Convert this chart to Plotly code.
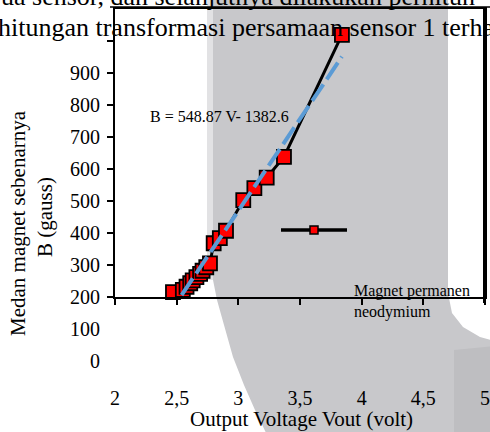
import plotly.graph_objects as go

# ---------------- data ----------------
voltage = [2.47, 2.55, 2.58, 2.61, 2.63, 2.66, 2.69, 2.71, 2.74, 2.77,
           2.80, 2.85, 2.90, 3.04, 3.13, 3.23, 3.37, 3.84]
field_b = [215, 222, 232, 243, 252, 262, 272, 282, 293, 305,
           368, 384, 407, 503, 540, 573, 638, 1019]
trend_x = [2.54, 3.84]
trend_y = [206, 951]

x_ticks = [2, 2.5, 3, 3.5, 4, 4.5, 5]
x_labels = ["2", "2,5", "3", "3,5", "4", "4,5", "5"]
y_label_vals = [0, 100, 200, 300, 400, 500, 600, 700, 800, 900]
y_tick_vals = [200, 300, 400, 500, 600, 700, 800, 900, 1000]

equation = "B = 548.87 V- 1382.6"
series_name = "Magnet permanen<br>neodymium"
x_title = "Output Voltage Vout (volt)"
y_title1 = "Medan magnet sebenarnya"
y_title2 = "B (gauss)"
page_line1 = "ua sensor, dan selanjutnya dilakukan perhitun"
page_line2 = "hitungan transformasi persamaan sensor 1 terha"

X_RANGE = [2, 5]
Y_FULL = [-62.5, 1100]      # full label scale
Y_BOX = [200, 1100]         # framed plotting box

# ---------------- layout geometry ----------------
W, H = 490, 432
ML, MR, MT, MB = 115, 5, 9, 51
PW, PH = W - ML - MR, H - MT - MB
FONT = "Liberation Serif"
box_frac = (Y_BOX[0] - Y_FULL[0]) / (Y_FULL[1] - Y_FULL[0])


def px(xp, yp):
    return (xp - ML) / PW, (H - MB - yp) / PH


def path_from(points):
    s = ""
    for i, (a, b) in enumerate(points):
        u, v = px(a, b)
        s += ("M" if i == 0 else "L") + f"{u:.4f},{v:.4f} "
    return s + "Z"


fig = go.Figure()

fig.add_trace(go.Scatter(
    x=voltage, y=field_b, mode="lines+markers",
    line=dict(color="black", width=3),
    marker=dict(symbol="square", size=14, color="#ff0000",
                line=dict(color="black", width=1.8)),
    showlegend=False, cliponaxis=False,
))
fig.add_trace(go.Scatter(
    x=trend_x, y=trend_y, mode="lines", xaxis="x2", yaxis="y2",
    line=dict(color="#5b9bd5", width=4, dash="20px,6px"),
    showlegend=False, cliponaxis=False,
))

gray = "#c8c8cb"
shapes = []
# background scan shading
shapes.append(dict(type="path", xref="paper", yref="paper", layer="below",
                   path=path_from([(213, -5), (448, -5), (448, 293), (452, 313),
                                   (463, 327), (480, 337), (495, 341), (495, 437),
                                   (268, 437), (255, 410), (244, 385), (233, 357),
                                   (224, 325), (217, 300), (213, 280)]),
                   fillcolor=gray, line=dict(width=0)))
shapes.append(dict(type="path", xref="paper", yref="paper", layer="below",
                   path=path_from([(207, -5), (213, -5), (213, 280), (207, 280)]),
                   fillcolor="#e2e2e4", line=dict(width=0)))
shapes.append(dict(type="path", xref="paper", yref="paper", layer="below",
                   path=path_from([(454, 350), (495, 346), (495, 437), (454, 437)]),
                   fillcolor="#bebec1", line=dict(width=0)))
# underline of page text
u0 = px(110, 7)
u1 = px(492, 7)
shapes.append(dict(type="line", xref="paper", yref="paper",
                   x0=u0[0], y0=u0[1], x1=u1[0], y1=u1[1],
                   line=dict(color="black", width=1.5)))
# right edge of the frame, drawn explicitly as well
r0 = px(484, 9)
r1 = px(484, 303)
shapes.append(dict(type="line", xref="paper", yref="paper",
                   x0=r0[0], x1=r1[0], y0=r1[1], y1=r0[1],
                   line=dict(color="black", width=2)))
# legend sample
l0 = px(281, 230)
l1 = px(347, 230)
shapes.append(dict(type="line", xref="paper", yref="paper",
                   x0=l0[0], y0=l0[1], x1=l1[0], y1=l1[1],
                   line=dict(color="black", width=3.5)))
m0 = px(310, 226)
m1 = px(318, 234)
shapes.append(dict(type="rect", xref="paper", yref="paper",
                   x0=m0[0], y0=m1[1], x1=m1[0], y1=m0[1],
                   fillcolor="#ff0000", line=dict(color="black", width=1.5)))

annotations = []


def ann(text, xp, yp, size, xanchor="center", angle=0, align="center"):
    u, v = px(xp, yp)
    annotations.append(dict(text=text, x=u, y=v, xref="paper", yref="paper",
                            xanchor=xanchor, yanchor="middle", showarrow=False,
                            textangle=angle, align=align,
                            font=dict(family=FONT, size=size, color="black")))


ann(page_line1, -1, -4, 26, xanchor="left")
ann(page_line2, -4, 28, 26, xanchor="left")
ann(equation, 219.5, 117, 16)
ann(series_name, 352, 301, 16, xanchor="left", align="left")
ann(x_title, 301, 419, 21)
ann(y_title1, 18, 223, 21, angle=-90)
ann(y_title2, 45, 217, 21, angle=-90)

fig.update_layout(
    width=W, height=H, autosize=False,
    margin=dict(l=ML, r=MR, t=MT, b=MB, autoexpand=False),
    paper_bgcolor="white", plot_bgcolor="rgba(0,0,0,0)",
    font=dict(family=FONT, color="black"),
    shapes=shapes, annotations=annotations,
    # framed box: x axis line at B = 200, mirrored frame
    xaxis=dict(range=X_RANGE, domain=[0, 1], anchor="y",
               tickvals=x_ticks, showticklabels=False, ticks="outside",
               ticklen=6, tickwidth=1.5, tickcolor="black",
               showline=True, linewidth=2, linecolor="black", mirror=True,
               showgrid=False, zeroline=False),
    yaxis=dict(range=Y_BOX, domain=[box_frac, 1], anchor="x",
               tickvals=y_tick_vals, showticklabels=False, ticks="outside",
               ticklen=6, tickwidth=1.5, tickcolor="black",
               showline=True, linewidth=2, linecolor="black", mirror=True,
               showgrid=False, zeroline=False),
    # label scale covering the whole area
    xaxis2=dict(range=X_RANGE, domain=[0, 1], anchor="y2",
                tickvals=x_ticks, ticktext=x_labels, ticks="",
                showline=False, showgrid=False, zeroline=False,
                ticklabelstandoff=3, ticklabeloverflow="allow",
                tickfont=dict(family=FONT, size=20, color="black")),
    yaxis2=dict(range=Y_FULL, domain=[0, 1], anchor="x2",
                tickvals=y_label_vals, ticks="",
                showline=False, showgrid=False, zeroline=False,
                ticklabelstandoff=14,
                tickfont=dict(family=FONT, size=20, color="black")),
)

fig.write_html("out.html")
